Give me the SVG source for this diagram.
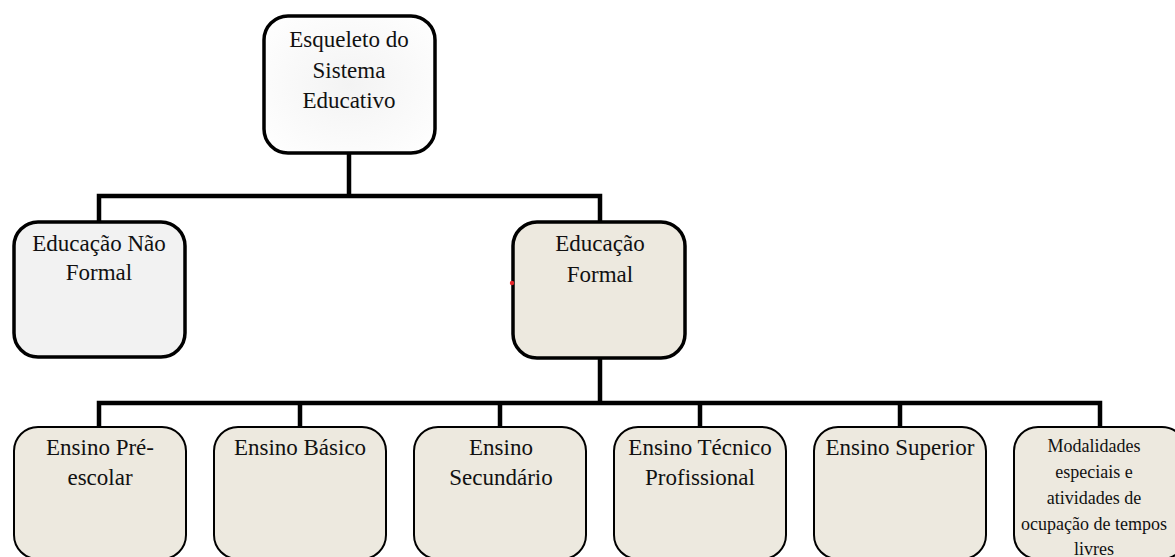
<svg xmlns="http://www.w3.org/2000/svg" width="1175" height="557" viewBox="0 0 1175 557">
<style>
.box{stroke:#000;stroke-width:3.5}
.small{stroke:#000;stroke-width:2}
.beige{fill:#ede9df}
.t{font-family:"Liberation Serif","Times New Roman",serif;font-size:23px;fill:#111;text-anchor:middle}
.ts{font-family:"Liberation Serif","Times New Roman",serif;font-size:18px;fill:#111;text-anchor:middle}
.c{fill:none;stroke:#000;stroke-width:4.5;stroke-linejoin:miter;stroke-linecap:butt}
</style>
<defs>
<radialGradient id="g1" cx="0.5" cy="0.5" r="0.7">
<stop offset="0" stop-color="#f3f3f3"/>
<stop offset="1" stop-color="#ffffff"/>
</radialGradient>
</defs>
<rect width="1175" height="557" fill="#fff"/>
<g id="connectors">
<path class="c" d="M349 153V196"/>
<path class="c" d="M99 222V196H600V222"/>
<path class="c" d="M600 358V403"/>
<path class="c" d="M99 427V403H1100V427"/>
<path class="c" d="M300 403V427M500 403V427M700 403V427M900 403V427"/>
</g>
<g id="root">
<rect class="box" x="264" y="16" width="171" height="137" rx="24" fill="url(#g1)"/>
<text class="t" x="349" y="47">Esqueleto do</text>
<text class="t" x="349" y="78">Sistema</text>
<text class="t" x="349" y="108">Educativo</text>
</g>
<g id="nao-formal">
<rect class="box" x="14" y="222" width="171" height="135" rx="24" fill="#f2f2f2"/>
<text class="t" x="99" y="251">Educação Não</text>
<text class="t" x="99" y="280">Formal</text>
</g>
<g id="formal">
<rect class="box beige" x="513" y="222" width="172" height="136" rx="24"/>
<text class="t" x="600" y="251">Educação</text>
<text class="t" x="600" y="282">Formal</text>
<circle cx="512" cy="283" r="2.2" fill="#e8262b"/>
</g>
<g id="pre-escolar">
<rect class="small beige" x="14" y="427" width="172" height="132" rx="24"/>
<text class="t" x="100" y="455">Ensino Pré-</text>
<text class="t" x="100" y="485">escolar</text>
</g>
<g id="basico">
<rect class="small beige" x="214" y="427" width="172" height="132" rx="24"/>
<text class="t" x="300" y="455">Ensino Básico</text>
</g>
<g id="secundario">
<rect class="small beige" x="414" y="427" width="172" height="132" rx="24"/>
<text class="t" x="501" y="455">Ensino</text>
<text class="t" x="501" y="485">Secundário</text>
</g>
<g id="tecnico">
<rect class="small beige" x="614" y="427" width="172" height="132" rx="24"/>
<text class="t" x="700" y="455">Ensino Técnico</text>
<text class="t" x="700" y="485">Profissional</text>
</g>
<g id="superior">
<rect class="small beige" x="814" y="427" width="172" height="132" rx="24"/>
<text class="t" x="900" y="455">Ensino Superior</text>
</g>
<g id="modalidades">
<rect class="small beige" x="1014" y="427" width="172" height="132" rx="24"/>
<text class="ts" x="1094" y="452">Modalidades</text>
<text class="ts" x="1094" y="478">especiais e</text>
<text class="ts" x="1094" y="504">atividades de</text>
<text class="ts" x="1094" y="530">ocupação de tempos</text>
<text class="ts" x="1094" y="555">livres</text>
</g>
</svg>
